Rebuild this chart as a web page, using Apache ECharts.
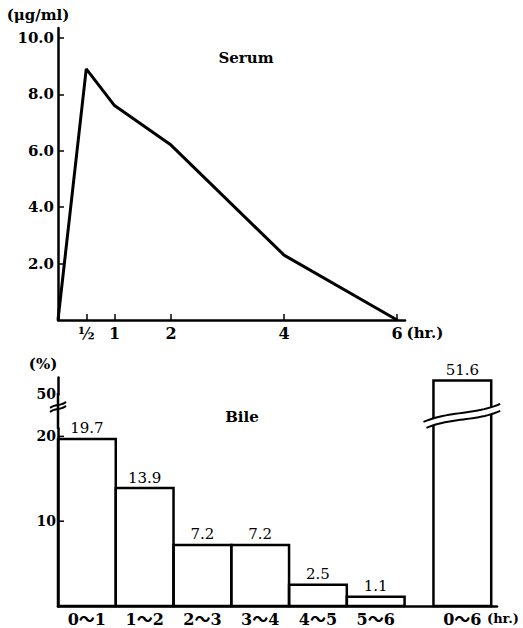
<!DOCTYPE html>
<html><head><meta charset="utf-8">
<script src="https://cdn.jsdelivr.net/npm/echarts@6/dist/echarts.min.js"></script>
<style>html,body{margin:0;padding:0;background:#fff}#c{width:523px;height:628px}</style>
</head><body><div id="c"></div>
<script>
// Serum concentration (µg/ml) vs time (hr.)
const serumHours = [0, 0.5, 1, 2, 4, 6];
const serumValues = [0, 8.9, 7.6, 6.2, 2.3, 0];
const serumXTicks = [0.5, 1, 2, 4, 6];
const serumXLabels = ['½', '1', '2', '4', '6'];
const serumYTicks = [2, 4, 6, 8, 10];

// Bile excretion (%) per interval
const bileCategories = ['0〜1', '1〜2', '2〜3', '3〜4', '4〜5', '5〜6', '0〜6'];
const bileStart = [0, 1, 2, 3, 4, 5, 6.5];
const bileEnd = [1, 2, 3, 4, 5, 6, 7.5];
const bileValues = [19.7, 13.9, 7.2, 7.2, 2.5, 1.1, 51.6];
const bileYLabels = [10, 20, 50];
const bileYTicks = [10, 20];
const bileBreak = { start: 21, end: 50 };

const FONT = '"DejaVu Serif", "Noto Sans CJK JP", serif';
const bileLabelCenters = bileStart.map((s, i) => (s + bileEnd[i]) / 2);

function bezierPts(a, b, amp, n) {
  const c1 = [a[0] + (b[0] - a[0]) / 3, a[1] + (b[1] - a[1]) / 3 - amp];
  const c2 = [a[0] + 2 * (b[0] - a[0]) / 3, a[1] + 2 * (b[1] - a[1]) / 3 + amp];
  const pts = [];
  for (let i = 0; i <= n; i++) {
    const t = i / n, u = 1 - t;
    pts.push([
      u*u*u*a[0] + 3*u*u*t*c1[0] + 3*u*t*t*c2[0] + t*t*t*b[0],
      u*u*u*a[1] + 3*u*u*t*c1[1] + 3*u*t*t*c2[1] + t*t*t*b[1]
    ]);
  }
  return pts;
}

const chart = echarts.init(document.getElementById('c'), null, { renderer: 'svg' });
const axisColor = '#000';
chart.setOption({
  animation: false,
  backgroundColor: '#fff',
  graphic: [
    { type: 'text', x: 246, y: 58, style: { text: 'Serum', align: 'center', verticalAlign: 'middle', font: 'bold 15px ' + FONT, fill: '#000' } },
    { type: 'text', x: 242, y: 417, style: { text: 'Bile', align: 'center', verticalAlign: 'middle', font: 'bold 15px ' + FONT, fill: '#000' } },
    { type: 'text', x: 38, y: 15, style: { text: '(μg/ml)', align: 'center', verticalAlign: 'middle', font: 'bold 15px ' + FONT, fill: '#000' } },
    { type: 'text', x: 43, y: 364, style: { text: '(%)', align: 'center', verticalAlign: 'middle', font: 'bold 15px ' + FONT, fill: '#000' } }
  ],
  grid: [
    { left: 58, top: 28, width: 347, height: 292, outerBoundsMode: 'none' },
    { left: 58, top: 377, width: 439, height: 229, outerBoundsMode: 'none' }
  ],
  xAxis: [
    {
      gridIndex: 0, type: 'value', min: 0, max: 6.14,
      axisLine: { show: true, lineStyle: { color: axisColor, width: 2.5 } },
      axisTick: { show: true, inside: true, length: 6, customValues: serumXTicks, lineStyle: { color: axisColor, width: 1.5 } },
      axisLabel: { customValues: serumXTicks, formatter: v => serumXLabels[serumXTicks.indexOf(v)], color: '#000', fontFamily: FONT, fontWeight: 'bold', fontSize: 16, margin: 5 },
      splitLine: { show: false },
      name: '(hr.)', nameLocation: 'end', nameGap: 0,
      nameTextStyle: { color: '#000', fontFamily: FONT, fontWeight: 'bold', fontSize: 15, verticalAlign: 'top', padding: [5, 0, 0, 0] }
    },
    {
      gridIndex: 1, type: 'value', min: 0, max: 7.6,
      axisLine: { show: true, lineStyle: { color: axisColor, width: 2.5 } },
      axisTick: { show: false },
      axisLabel: { customValues: bileLabelCenters, formatter: v => bileCategories[bileLabelCenters.indexOf(v)], color: '#000', fontFamily: FONT, fontWeight: 'bold', fontSize: 16, margin: 5 },
      splitLine: { show: false },
      name: '(hr.)', nameLocation: 'end', nameGap: -10,
      nameTextStyle: { color: '#000', fontFamily: FONT, fontWeight: 'bold', fontSize: 13, verticalAlign: 'top', padding: [6, 0, 0, 0] }
    }
  ],
  yAxis: [
    {
      gridIndex: 0, type: 'value', min: 0, max: 10.35,
      axisLine: { show: true, lineStyle: { color: axisColor, width: 2.5 } },
      axisTick: { show: true, inside: true, length: 6, customValues: serumYTicks, lineStyle: { color: axisColor, width: 1.5 } },
      axisLabel: { customValues: serumYTicks, formatter: v => v.toFixed(1), color: '#000', fontFamily: FONT, fontWeight: 'bold', fontSize: 15, margin: 4 },
      splitLine: { show: false }
    },
    {
      gridIndex: 1, type: 'value', min: 0, max: 52,
      breaks: [{ start: bileBreak.start, end: bileBreak.end, gap: 4 }],
      breakArea: { show: false },
      axisLine: { show: true, lineStyle: { color: axisColor, width: 2.5 } },
      axisTick: { show: false },
      axisLabel: { customValues: bileYLabels, formatter: v => String(v), color: '#000', fontFamily: FONT, fontWeight: 'bold', fontSize: 14, margin: 2 },
      splitLine: { show: false }
    }
  ],
  series: [
    {
      type: 'line', xAxisIndex: 0, yAxisIndex: 0,
      data: serumHours.map((h, i) => [h, serumValues[i]]),
      symbol: 'none', lineStyle: { color: '#000', width: 3 }, itemStyle: { color: '#000' }
    },
    {
      type: 'custom', xAxisIndex: 1, yAxisIndex: 1, clip: false,
      data: bileValues.map((v, i) => [bileStart[i], bileEnd[i], v]),
      encode: { x: [0, 1], y: 2 },
      renderItem: function (params, api) {
        const s = api.value(0), e = api.value(1), v = api.value(2);
        const p0 = api.coord([s, 0]);
        const p1 = api.coord([e, v]);
        const children = [{
          type: 'rect',
          shape: { x: p0[0], y: p1[1], width: p1[0] - p0[0], height: p0[1] - p1[1] },
          style: { fill: 'none', stroke: '#000', lineWidth: 2.5 }
        }, {
          type: 'text', x: (p0[0] + p1[0]) / 2, y: p1[1] - 3,
          style: { text: v.toFixed(1), align: 'center', verticalAlign: 'bottom', font: '15px ' + FONT, fill: '#000' }
        }];
        const lo = api.coord([s, bileBreak.start])[1];
        const hi = api.coord([s, bileBreak.end])[1];
        const mid = (lo + hi) / 2;
        if (v > bileBreak.end) {
          const xl = p0[0] - 10, xr = p1[0] + 9;
          const top = bezierPts([xl, mid + 11], [xr, mid - 7], 5, 24);
          const bot = bezierPts([xl + 3, mid + 17], [xr, mid], 5, 24);
          children.push({ type: 'polygon', shape: { points: top.concat(bot.slice().reverse()) }, style: { fill: '#fff', stroke: null } });
          children.push({ type: 'polyline', shape: { points: top }, style: { stroke: '#000', lineWidth: 2, fill: null } });
          children.push({ type: 'polyline', shape: { points: bot }, style: { stroke: '#000', lineWidth: 2, fill: null } });
        }
        if (params.dataIndex === 0) {
          const ax = api.coord([0, 0])[0];
          children.push({ type: 'line', shape: { x1: ax, y1: lo + 1, x2: ax, y2: hi - 1 }, style: { stroke: '#000', lineWidth: 2.5 } });
          bileYTicks.forEach(function (t) {
            const ty = api.coord([0, t])[1];
            children.push({ type: 'line', shape: { x1: ax, y1: ty, x2: ax + 6, y2: ty }, style: { stroke: '#000', lineWidth: 1.5 } });
          });
          const m1 = bezierPts([ax - 8, mid - 3], [ax + 8, mid - 9], 2, 12);
          const m2 = bezierPts([ax - 8, mid + 1], [ax + 8, mid - 5], 2, 12);
          children.push({ type: 'polyline', shape: { points: m1 }, style: { stroke: '#000', lineWidth: 2, fill: null } });
          children.push({ type: 'polyline', shape: { points: m2 }, style: { stroke: '#000', lineWidth: 2, fill: null } });
        }
        return { type: 'group', children: children };
      }
    }
  ]
});
</script>
</body></html>
